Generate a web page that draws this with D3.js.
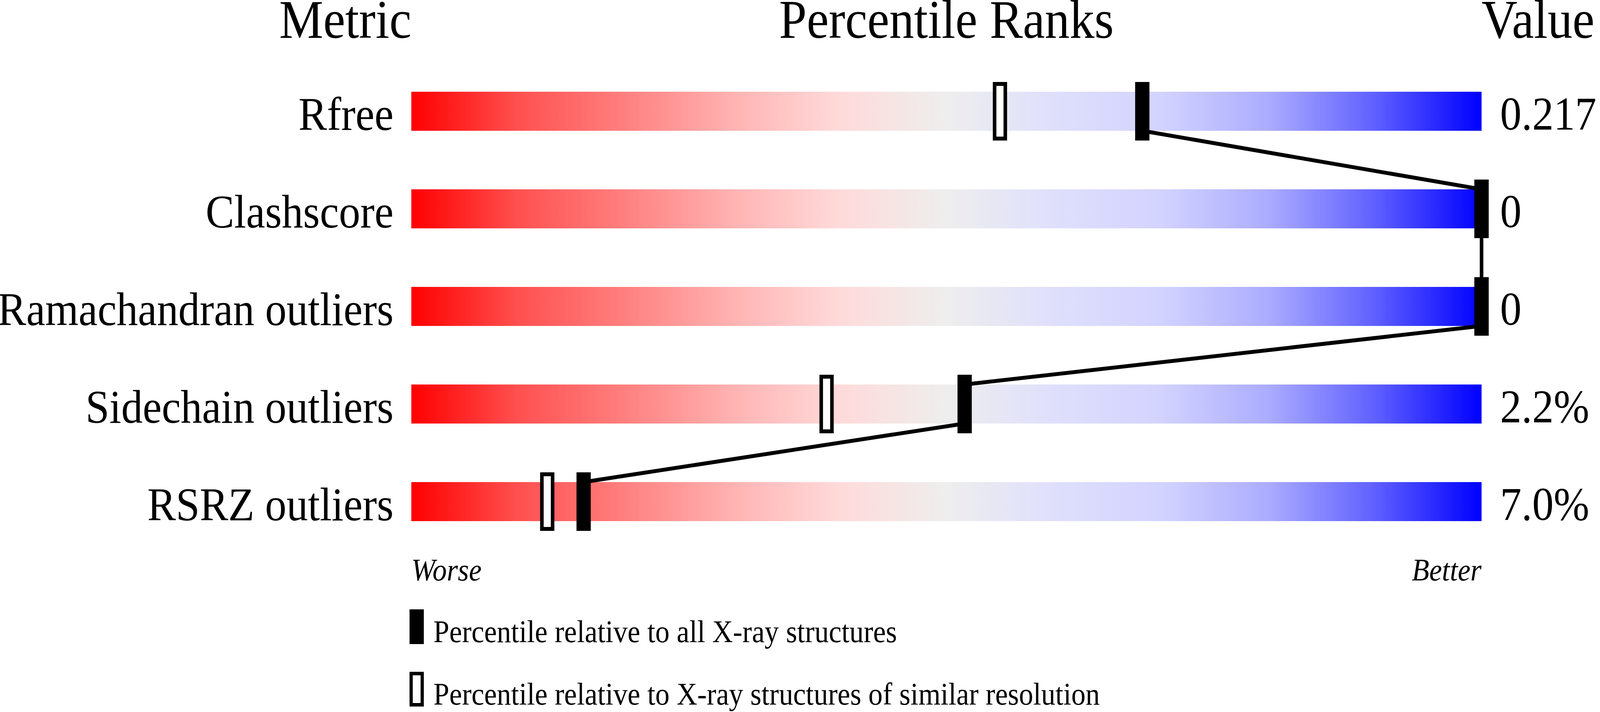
<!DOCTYPE html>
<html>
<head>
<meta charset="utf-8">
<script src="https://cdn.jsdelivr.net/npm/d3@7"></script>
<style>
  html, body { margin: 0; padding: 0; background: #ffffff; overflow: hidden; }
  svg { display: block; width: 100vw; height: 100vh; }
  text { font-family: "Liberation Serif", "DejaVu Serif", serif; fill: #000; }
</style>
</head>
<body>
<svg id="chart" viewBox="0 0 4485 1824" preserveAspectRatio="none"></svg>
<script>
// ---- data ----
const metrics = ["Rfree", "Clashscore", "Ramachandran outliers", "Sidechain outliers", "RSRZ outliers"];
const valueLabels = ["0.217", "0", "0", "2.2%", "7.0%"];
const pctAll = [68.3, 100, 100, 51.7, 16.1];        // filled markers
const pctSimilar = [55.0, 100, 100, 38.8, 12.7];    // hollow markers
const headers = ["Metric", "Percentile Ranks", "Value"];
const axisEnds = ["Worse", "Better"];
const legendLabels = ["Percentile relative to all X-ray structures",
                      "Percentile relative to X-ray structures of similar resolution"];
const gradientOffsets = [0, 0.1, 0.2, 0.3, 0.4, 0.5, 0.6, 0.7, 0.8, 0.9, 1];
const gradientColors = ["#ff0000", "#ff5050", "#ff8080", "#ffb2b2", "#ffdada", "#eeeeee",
                        "#dfdffc", "#d3d3ff", "#acacff", "#6060ff", "#0000ff"];

// ---- layout ----
const svg = d3.select("#chart");
svg.append("rect").attr("width", 4485).attr("height", 1824).attr("fill", "#fff");

const barLeft = 1153, barRight = 4153, barH = 100;
const x = d3.scaleLinear().domain([0, 100]).range([barLeft, barRight]);
const y = d3.scaleLinear().domain([0, metrics.length - 1]).range([235, 1235]);
const markW = 40, markH = 150, markOver = 25;

const defs = svg.append("defs");
const grad = defs.append("linearGradient").attr("id", "slider")
  .attr("x1", "0%").attr("x2", "100%").attr("y1", "0%").attr("y2", "0%");
grad.selectAll("stop").data(gradientOffsets).join("stop")
  .attr("offset", d => d)
  .attr("stop-color", (d, i) => gradientColors[i]);

// headers
svg.append("text").attr("x", barLeft).attr("y", 97).attr("text-anchor", "end")
  .attr("font-size", 139).text(headers[0]);
svg.append("text").attr("x", (barLeft + barRight) / 2).attr("y", 97).attr("text-anchor", "middle")
  .attr("font-size", 139).text(headers[1]);
svg.append("text").attr("x", barRight).attr("y", 97).attr("text-anchor", "start")
  .attr("font-size", 139).text(headers[2]);

// bars
svg.selectAll("rect.bar").data(metrics).join("rect").attr("class", "bar")
  .attr("x", x(0)).attr("width", x(100) - x(0))
  .attr("y", (d, i) => y(i)).attr("height", barH)
  .attr("fill", "url(#slider)");

// metric labels
svg.selectAll("text.metric").data(metrics).join("text").attr("class", "metric")
  .attr("x", 1103).attr("y", (d, i) => y(i) + 98)
  .attr("text-anchor", "end").attr("font-size", 120).text(d => d);

// value labels
svg.selectAll("text.value").data(valueLabels).join("text").attr("class", "value")
  .attr("x", 4205).attr("y", (d, i) => y(i) + 97)
  .attr("text-anchor", "start").attr("font-size", 120).text(d => d);

// hollow markers (similar resolution)
svg.selectAll("rect.hollow").data(pctSimilar).join("rect").attr("class", "hollow")
  .attr("x", d => x(d) - markW / 2 + 5).attr("width", markW - 10)
  .attr("y", (d, i) => y(i) - markOver + 5).attr("height", markH - 10)
  .attr("fill", "#fff").attr("stroke", "#000").attr("stroke-width", 10);

// connecting line through filled markers
const pts = [];
pctAll.forEach((p, i) => { pts.push([x(p), y(i)]); pts.push([x(p), y(i) + barH]); });
svg.append("path").attr("d", d3.line()(pts))
  .attr("fill", "none").attr("stroke", "#000").attr("stroke-width", 10)
  .attr("stroke-linejoin", "round");

// filled markers (all X-ray)
svg.selectAll("rect.filled").data(pctAll).join("rect").attr("class", "filled")
  .attr("x", d => x(d) - markW / 2).attr("width", markW)
  .attr("y", (d, i) => y(i) - markOver).attr("height", markH)
  .attr("fill", "#000");

// Worse / Better
svg.append("text").attr("x", barLeft).attr("y", 1487).attr("font-style", "italic")
  .attr("font-size", 80).attr("text-anchor", "start").text(axisEnds[0]);
svg.append("text").attr("x", barRight).attr("y", 1487).attr("font-style", "italic")
  .attr("font-size", 80).attr("text-anchor", "end").text(axisEnds[1]);

// legend
const legTop = [1561, 1721];
svg.append("rect").attr("x", 1148).attr("y", legTop[0]).attr("width", 40).attr("height", 89)
  .attr("fill", "#000");
svg.append("rect").attr("x", 1148 + 4.5).attr("y", legTop[1] + 4.5).attr("width", 31).attr("height", 80)
  .attr("fill", "#fff").attr("stroke", "#000").attr("stroke-width", 9);
svg.selectAll("text.legend").data(legendLabels).join("text").attr("class", "legend")
  .attr("x", 1215).attr("y", (d, i) => legTop[i] + 84)
  .attr("font-size", 80).text(d => d);
</script>
</body>
</html>
